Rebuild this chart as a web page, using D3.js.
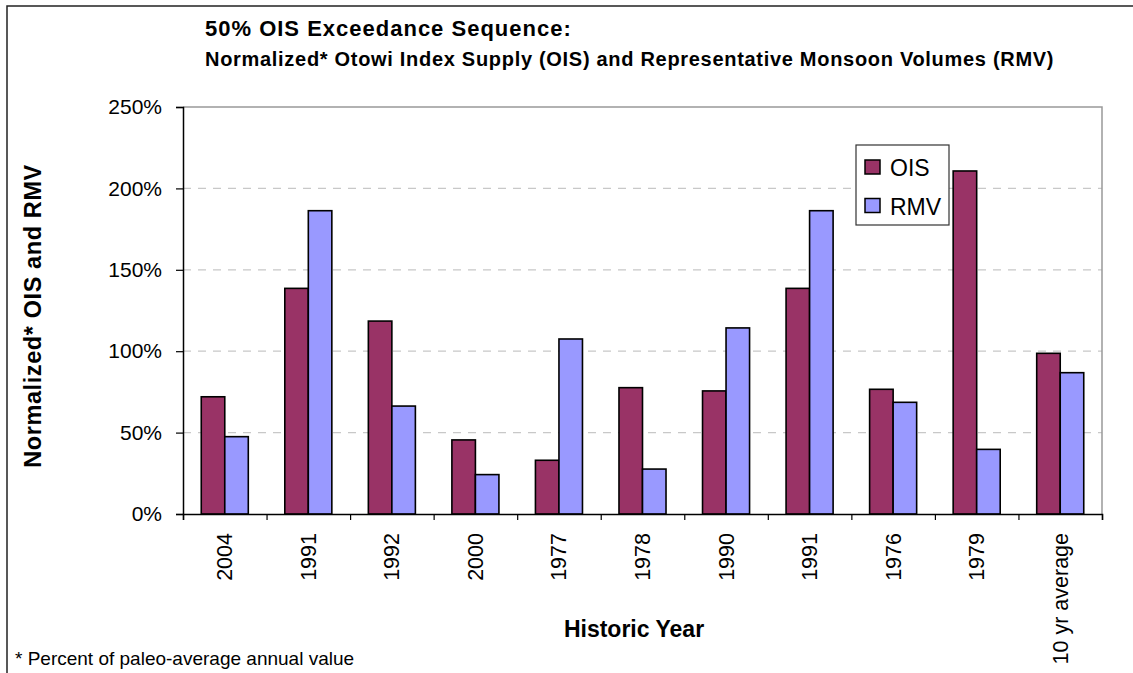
<!DOCTYPE html>
<html>
<head>
<meta charset="utf-8">
<script src="https://cdn.jsdelivr.net/npm/d3@7"></script>
<style>
  body { margin: 0; background: #fff; }
  text { font-family: "Liberation Sans", Arial, sans-serif; fill: #000; }
</style>
</head>
<body>
<div id="chart"></div>
<script>
// data (percent of paleo-average)
const years = ["2004", "1991", "1992", "2000", "1977", "1978", "1990", "1991", "1976", "1979", "10 yr average"]
const ois = [72, 138.6, 118.5, 45.5, 33, 77.6, 75.6, 138.6, 76.6, 210.7, 98.7]
const rmv = [47.5, 186.3, 66.3, 24.2, 107.5, 27.6, 114.3, 186.3, 68.6, 39.7, 86.8]
const seriesNames = ["OIS", "RMV"]
const yTicks = [0, 50, 100, 150, 200, 250]

var width = 1133
var height = 673
var plot = {left: 183, right: 1102, top: 107, bottom: 514}
var colors = {OIS: "#993366", RMV: "#9999ff"}

var svg = d3.select("#chart")
  .append("svg")
    .attr("width", width)
    .attr("height", height)

// outer chart border (runs off the right/bottom edge)
svg.append("rect")
  .attr("x", 7).attr("y", 6)
  .attr("width", 1300).attr("height", 900)
  .attr("fill", "none")
  .attr("stroke", "#222")
  .attr("stroke-width", 1.5)

// scales
var x0 = d3.scaleBand()
  .domain(d3.range(years.length))
  .range([plot.left, plot.right])
  .paddingInner(0.437)
  .paddingOuter(0.2185)

var x1 = d3.scaleBand()
  .domain(seriesNames)
  .range([0, x0.bandwidth()])

var xEdge = d3.scaleLinear()
  .domain([0, years.length])
  .range([plot.left, plot.right])

var y = d3.scaleLinear()
  .domain([0, 250])
  .range([plot.bottom, plot.top])

// gridlines
svg.append("g")
  .selectAll("line")
  .data(yTicks.filter(d => d > 0 && d < 250))
  .enter()
  .append("line")
    .attr("x1", plot.left).attr("x2", plot.right)
    .attr("y1", d => y(d)).attr("y2", d => y(d))
    .attr("stroke", "#c8c8c8")
    .attr("stroke-width", 1.2)
    .attr("stroke-dasharray", "8,7")

// plot area border top/right (gray)
svg.append("path")
  .attr("d", "M" + plot.left + "," + y(250) + "H" + plot.right + "V" + plot.bottom)
  .attr("fill", "none")
  .attr("stroke", "#999")
  .attr("stroke-width", 1.5)

// bars
var rows = years.map((yr, i) => ({i: i, OIS: ois[i], RMV: rmv[i]}))

var groups = svg.append("g")
  .selectAll("g")
  .data(rows)
  .enter()
  .append("g")
    .attr("transform", d => "translate(" + x0(d.i) + ",0)")

groups.selectAll("rect")
  .data(d => seriesNames.map(k => ({key: k, value: d[k]})))
  .enter()
  .append("rect")
    .attr("x", d => x1(d.key))
    .attr("y", d => y(d.value))
    .attr("width", x1.bandwidth())
    .attr("height", d => plot.bottom - y(d.value))
    .attr("fill", d => colors[d.key])
    .attr("stroke", "#000")
    .attr("stroke-width", 1.6)

// y axis
var yAxis = svg.append("g")
  .attr("transform", "translate(" + plot.left + ",0)")
  .call(d3.axisLeft(y).tickValues(yTicks).tickSize(7).tickPadding(14).tickFormat(d => d + "%"))
yAxis.select(".domain").attr("stroke", "#000").attr("stroke-width", 1.5)
yAxis.selectAll(".tick line").attr("stroke", "#000").attr("stroke-width", 1.2)
yAxis.selectAll("text").style("font-size", "21px").attr("fill", "#000")

// x axis: boundary ticks
var xTickAxis = svg.append("g")
  .attr("transform", "translate(0," + plot.bottom + ")")
  .call(d3.axisBottom(xEdge).tickValues(d3.range(years.length + 1)).tickSize(6).tickFormat(""))
xTickAxis.select(".domain").attr("stroke", "#000").attr("stroke-width", 1.5)
xTickAxis.selectAll(".tick line").attr("stroke", "#000").attr("stroke-width", 1.2)

// x axis: rotated labels
var xLab = svg.append("g")
  .attr("transform", "translate(0," + plot.bottom + ")")
  .call(d3.axisBottom(x0).tickSize(0).tickFormat(i => years[i]))
xLab.select(".domain").remove()
xLab.selectAll("text")
  .attr("transform", "rotate(-90)")
  .attr("x", -19)
  .attr("y", 0)
  .attr("dy", "0.35em")
  .style("text-anchor", "end")
  .style("font-size", "21.5px")
  .attr("fill", "#000")

// titles
svg.append("text")
  .attr("x", 205).attr("y", 36)
  .style("font-size", "22px").style("font-weight", "bold")
  .style("letter-spacing", "1px")
  .text("50% OIS Exceedance Sequence:")

svg.append("text")
  .attr("x", 205).attr("y", 66)
  .style("font-size", "20px").style("font-weight", "bold")
  .style("letter-spacing", "0.7px")
  .text("Normalized* Otowi Index Supply (OIS) and Representative Monsoon Volumes (RMV)")

svg.append("text")
  .attr("transform", "translate(41,316)rotate(-90)")
  .attr("text-anchor", "middle")
  .style("font-size", "23.5px").style("font-weight", "bold")
  .style("letter-spacing", "0.6px")
  .text("Normalized* OIS and RMV")

svg.append("text")
  .attr("x", 634).attr("y", 637)
  .attr("text-anchor", "middle")
  .style("font-size", "23px").style("font-weight", "bold")
  .text("Historic Year")

svg.append("text")
  .attr("x", 15).attr("y", 665)
  .style("font-size", "19px")
  .text("* Percent of paleo-average annual value")

// legend
var legend = svg.append("g").attr("transform", "translate(856,145)")
legend.append("rect")
  .attr("width", 93).attr("height", 80)
  .attr("fill", "#fff")
  .attr("stroke", "#333")
  .attr("stroke-width", 1.2)

var item = legend.selectAll(".item")
  .data(seriesNames)
  .enter()
  .append("g")
    .attr("transform", (d, i) => "translate(0," + (i * 38.5) + ")")
item.append("rect")
  .attr("x", 9).attr("y", 15)
  .attr("width", 15).attr("height", 14)
  .attr("fill", d => colors[d])
  .attr("stroke", "#000")
  .attr("stroke-width", 1.5)
item.append("text")
  .attr("x", 34).attr("y", 31)
  .style("font-size", "23px")
  .text(d => d)
</script>
</body>
</html>
